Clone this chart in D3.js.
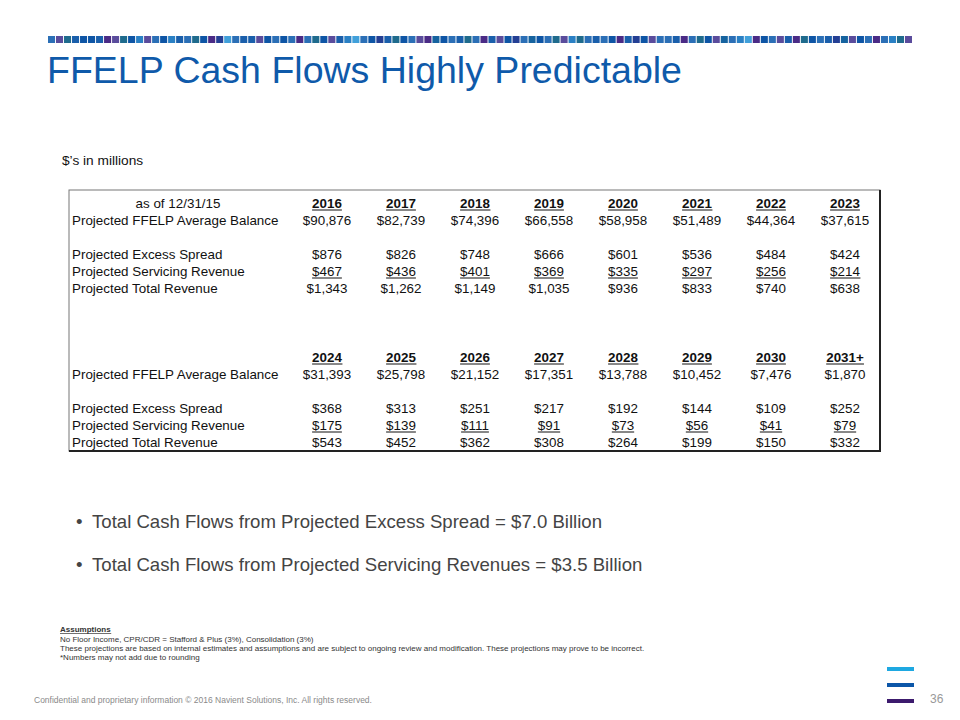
<!DOCTYPE html>
<html><head><meta charset="utf-8">
<script src="https://cdn.jsdelivr.net/npm/d3@7"></script>
<style>body{margin:0;background:#fff}svg{display:block}text{font-family:"Liberation Sans",Arial,sans-serif}</style>
</head><body>
<svg id="c" width="960" height="720"></svg>
<script>
// ---- data ----
const asOf = "as of  12/31/15";
const rowLabels = ["Projected FFELP Average Balance", "Projected Excess Spread", "Projected Servicing Revenue", "Projected Total Revenue"];
const years1 = ["2016","2017","2018","2019","2020","2021","2022","2023"];
const balance1 = [90876, 82739, 74396, 66558, 58958, 51489, 44364, 37615];
const excess1 = [876, 826, 748, 666, 601, 536, 484, 424];
const servicing1 = [467, 436, 401, 369, 335, 297, 256, 214];
const total1 = [1343, 1262, 1149, 1035, 936, 833, 740, 638];
const years2 = ["2024","2025","2026","2027","2028","2029","2030","2031+"];
const balance2 = [31393, 25798, 21152, 17351, 13788, 10452, 7476, 1870];
const excess2 = [368, 313, 251, 217, 192, 144, 109, 252];
const servicing2 = [175, 139, 111, 91, 73, 56, 41, 79];
const total2 = [543, 452, 362, 308, 264, 199, 150, 332];
const bullets = ["Total Cash Flows from Projected Excess Spread = $7.0 Billion",
                 "Total Cash Flows from Projected Servicing Revenues = $3.5 Billion"];
const notes = ["No Floor Income,  CPR/CDR = Stafford & Plus (3%), Consolidation (3%)",
  "These projections are based on internal estimates and assumptions and are subject to ongoing review and modification.  These projections may prove to be incorrect.",
  "*Numbers may not add due to rounding"];
// decorative stripe palette + fixed sequence
const stripePalette = ["#2b6fb6","#5a4c9c","#1f6b8d","#1a5fab","#0e55a5","#4a2b86","#2a80c4","#243f94","#41a0da","#16639f"];
const stripeSeq = "0123443512461046302457803314040502413680473240159403205314709402162030453741003502419068540135240379140506214";

const svg = d3.select("#c");
const F = d3.format("$,");

// stripe
const stripeX = d3.scaleBand().domain(d3.range(108)).range([48, 912]).paddingInner(0.12);
svg.append("g").selectAll("rect").data(d3.range(108)).join("rect")
  .attr("x", i => stripeX(i)).attr("y", 36).attr("width", stripeX.bandwidth()).attr("height", 7)
  .attr("fill", i => stripePalette[+stripeSeq[i % stripeSeq.length]]);

// title
svg.append("text").attr("x", 47).attr("y", 83).attr("font-size", 37.5).attr("fill", "#0f5aaa")
  .text("FFELP Cash Flows Highly Predictable");

svg.append("text").attr("x", 62).attr("y", 165).attr("font-size", 13.7).attr("fill", "#111").text("$\u2019s in millions");

// table box
const box = svg.append("g");
box.append("rect").attr("x", 69).attr("y", 190).attr("width", 811).attr("height", 261).attr("fill", "none").attr("stroke", "#777").attr("stroke-width", 1);
box.append("line").attr("x1", 880).attr("x2", 880).attr("y1", 190).attr("y2", 452).attr("stroke", "#222").attr("stroke-width", 2);
box.append("line").attr("x1", 69).attr("x2", 881).attr("y1", 451).attr("y2", 451).attr("stroke", "#222").attr("stroke-width", 2);

const x = d3.scalePoint().domain(d3.range(8)).range([327, 845]);
const fs = 13.4;

function underline(sel) {
  sel.each(function() {
    const b = this.getBBox();
    const y = +d3.select(this).attr("y") + 2;
    d3.select(this.parentNode).append("line").attr("x1", b.x).attr("x2", b.x + b.width)
      .attr("y1", y).attr("y2", y).attr("stroke", "#111").attr("stroke-width", 1);
  });
}

function block(g, years, rows, ys, showAsOf) {
  if (showAsOf) g.append("text").attr("x", 178).attr("y", ys[0]).attr("text-anchor", "middle").attr("font-size", fs).attr("fill", "#111").text(asOf);
  const yr = g.append("g").selectAll("text").data(years).join("text")
    .attr("x", (d, i) => x(i)).attr("y", ys[0]).attr("text-anchor", "middle")
    .attr("font-size", fs).attr("font-weight", "bold").attr("fill", "#111").text(d => d);
  underline(yr);
  rows.forEach((vals, r) => {
    const yy = ys[r + 1];
    g.append("text").attr("x", 72).attr("y", yy).attr("font-size", fs).attr("fill", "#111").text(rowLabels[r]);
    const t = g.append("g").selectAll("text").data(vals).join("text")
      .attr("x", (d, i) => x(i)).attr("y", yy).attr("text-anchor", "middle")
      .attr("font-size", fs).attr("fill", "#111").text(d => F(d));
    if (r === 2) underline(t);
  });
}
block(svg.append("g"), years1, [balance1, excess1, servicing1, total1], [208, 225, 259, 276, 293], true);
block(svg.append("g"), years2, [balance2, excess2, servicing2, total2], [362, 379, 413, 430, 447], false);

// bullets
const bg = svg.append("g").selectAll("g").data(bullets).join("g");
bg.append("text").attr("x", 76).attr("y", (d, i) => 528 + i * 43).attr("font-size", 18.6).attr("fill", "#444").text("\u2022");
bg.append("text").attr("x", 92).attr("y", (d, i) => 528 + i * 43).attr("font-size", 18.6).attr("fill", "#444").text(d => d);

// notes
const ass = svg.append("text").attr("x", 60).attr("y", 632).attr("font-size", 8).attr("font-weight", "bold").attr("fill", "#333").text("Assumptions");
(function(){ const b = ass.node().getBBox(); svg.append("line").attr("x1", b.x).attr("x2", b.x + b.width).attr("y1", 633.5).attr("y2", 633.5).attr("stroke", "#333").attr("stroke-width", 0.7); })();
svg.append("g").selectAll("text").data(notes).join("text")
  .attr("x", 60).attr("y", (d, i) => 641.5 + i * 9.3).attr("font-size", 8).attr("fill", "#333").text(d => d);

// footer
svg.append("text").attr("x", 34).attr("y", 703).attr("font-size", 8.5).attr("fill", "#8a8a8a")
  .text("Confidential and proprietary information  \u00a9 2016 Navient Solutions, Inc. All rights reserved.");
svg.append("text").attr("x", 930).attr("y", 703).attr("font-size", 12).attr("fill", "#999").text("36");

// logo bars
const logo = [{c: "#1ea8e1", y: 667}, {c: "#0c56a8", y: 683}, {c: "#3c1a6d", y: 699}];
svg.append("g").selectAll("rect").data(logo).join("rect")
  .attr("x", 887).attr("y", d => d.y).attr("width", 27).attr("height", 4).attr("fill", d => d.c);
</script>
</body></html>
